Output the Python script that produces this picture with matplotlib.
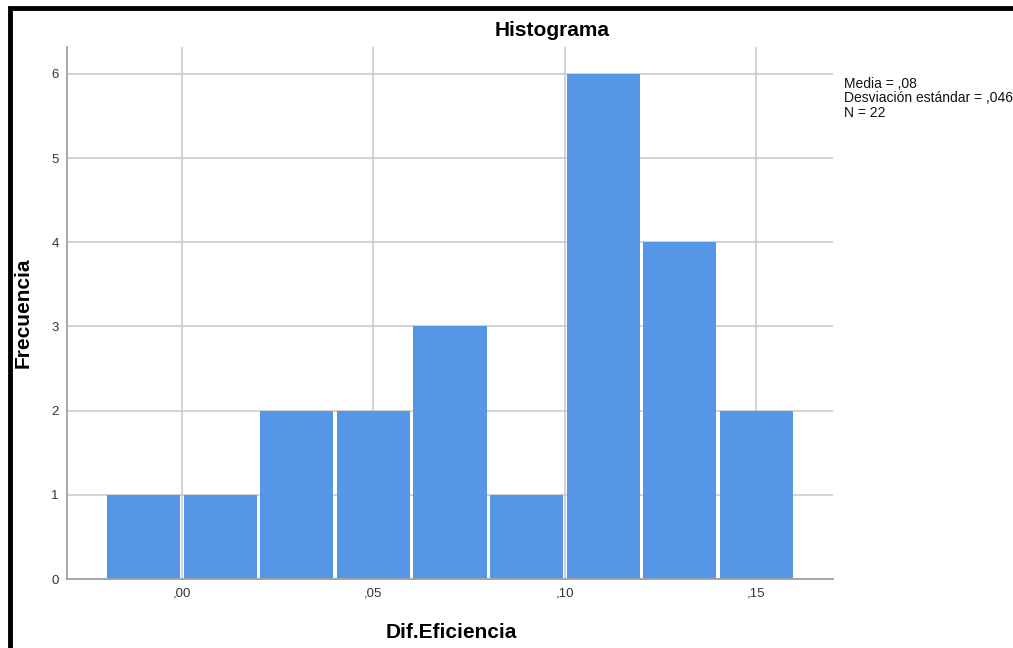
"""Histograma de Dif.Eficiencia (estilo SPSS)."""
import numpy as np
import matplotlib
matplotlib.use("Agg")
import matplotlib.pyplot as plt
from matplotlib.patches import Rectangle

# bins del histograma y frecuencias
bin_edges = [-0.02, 0.00, 0.02, 0.04, 0.06, 0.08, 0.10, 0.12, 0.14, 0.16]
freq = [1, 1, 2, 2, 3, 1, 6, 4, 2]
x_ticks = [0.00, 0.05, 0.10, 0.15]
x_tick_labels = [",00", ",05", ",10", ",15"]
y_ticks = [0, 1, 2, 3, 4, 5, 6]
stats_lines = ["Media = ,08", "Desviación estándar = ,046", "N = 22"]

BAR = "#5596e6"
GRID = "#c8c8c8"
SPINE = "#a0a0a0"


def main():
    plt.rcParams["font.family"] = ["Liberation Sans", "DejaVu Sans"]
    W, H = 1013, 648
    fig = plt.figure(figsize=(W / 100, H / 100), dpi=100)
    ax = fig.add_axes([67 / W, 1 - 579 / H, (833 - 67) / W, (579 - 47) / H])

    ax.hist(np.repeat(np.array(bin_edges[:-1]) + 0.01, freq), bins=bin_edges,
            rwidth=0.955, color=BAR, linewidth=0, zorder=2)

    ax.set_xlim(-0.03, 0.17)
    ax.set_ylim(0, 6.32)
    ax.set_xticks(x_ticks, x_tick_labels)
    ax.set_yticks(y_ticks)
    ax.tick_params(length=0, labelsize=9.5, colors="#333333", pad=6)
    ax.grid(True, color=GRID, linewidth=1.1, zorder=0)
    ax.set_axisbelow(True)
    for side in ("top", "right"):
        ax.spines[side].set_visible(False)
    for side in ("left", "bottom"):
        ax.spines[side].set_color(SPINE)
        ax.spines[side].set_linewidth(1.3)

    fig.text(552 / W, 1 - 31 / H, "Histograma", ha="center", va="center",
             fontsize=15, fontweight="bold")
    fig.text(451 / W, 1 - 633 / H, "Dif.Eficiencia", ha="center", va="center",
             fontsize=15, fontweight="bold")
    fig.text(23 / W, 1 - 313 / H, "Frecuencia", ha="center", va="center",
             rotation=90, fontsize=15, fontweight="bold")

    for i, line in enumerate(stats_lines):
        fig.text(844 / W, 1 - (88 + 14.5 * i) / H, line, ha="left",
                 va="baseline", fontsize=10, color="#111111")

    # marco negro (lados izquierdo y superior visibles)
    fig.patches.append(Rectangle((10 / W, -0.1), 1.2, 1 - 8 / H + 0.1,
                                 transform=fig.transFigure, fill=False,
                                 edgecolor="black", linewidth=3.5))

    fig.savefig("out.png", dpi=100)


if __name__ == "__main__":
    main()
